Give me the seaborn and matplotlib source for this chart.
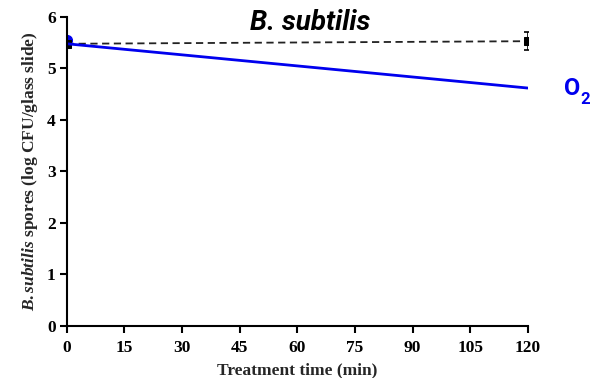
import matplotlib
matplotlib.use('Agg')
import matplotlib.pyplot as plt
import numpy as np
import pandas as pd
import seaborn as sb

# data
time_min = [0, 120]
control_mean = [5.48, 5.53]
control_err = [0.03, 0.17]
o2_mean = [5.48, 4.62]
o2_first = 5.56
x_ticks = [0, 15, 30, 45, 60, 75, 90, 105, 120]

sb.set_style("ticks")
plt.rcParams['font.family'] = ['Liberation Serif', 'DejaVu Serif']
plt.rcParams['mathtext.fontset'] = 'custom'
plt.rcParams['mathtext.it'] = 'Liberation Serif:italic:bold'
plt.rcParams['mathtext.rm'] = 'Liberation Serif:bold'
plt.rcParams['text.color'] = 'black'

df = pd.DataFrame({"time": time_min, "control": control_mean, "o2": o2_mean})

fig = plt.figure(figsize=(6.08, 3.78), dpi=100)
ax = fig.add_axes([0.110, 0.138, 0.758, 0.817])

sb.lineplot(data=df, x="time", y="control", ax=ax, color="#222222",
            linestyle=(0, (4, 2.5)), linewidth=1.3, marker="s", markersize=6,
            markeredgecolor="black", markerfacecolor="black")
ax.errorbar(time_min, control_mean, yerr=control_err, fmt="none",
            ecolor="black", elinewidth=1.2, capsize=3, capthick=1.2)
sb.lineplot(data=df, x="time", y="o2", ax=ax, color="#0000ee", linewidth=2)
ax.plot([0], [o2_first], "o", color="#0000ee", markersize=7, zorder=1)

ax.set_xlim(0, 120)
ax.set_ylim(0, 6)
ax.set_xticks(x_ticks)
ax.set_yticks(range(7))
sb.despine(ax=ax)
for s in ["left", "bottom"]:
    ax.spines[s].set_linewidth(1.5)
    ax.spines[s].set_color("black")
ax.tick_params(axis="both", direction="out", length=5, width=1.5,
               labelsize=12.5, colors="black")
ax.tick_params(axis="x", pad=5)
ax.tick_params(axis="y", pad=3)
for lab in ax.get_xticklabels() + ax.get_yticklabels():
    lab.set_fontweight("bold")

ax.set_xlabel("Treatment time (min)", fontsize=12.5, fontweight="bold", labelpad=5)
ax.set_ylabel(r"$\it{B.subtilis}$ spores (log CFU/glass slide)", fontsize=12.5,
              fontweight="bold", labelpad=5)

fig.text(0.51, 0.94, "B. subtilis", fontsize=20, fontweight="bold", style="italic",
         family="Roboto", ha="center", va="center", color="black")
# O2 label, subscript drawn as a second smaller text
fig.text(0.955, 0.765, "O", fontsize=17, fontweight="bold", color="#0000ee",
         family="Roboto", ha="right", va="center")
fig.text(0.954, 0.737, "2", fontsize=12, fontweight="bold", color="#0000ee",
         family="Roboto", ha="left", va="center")

fig.savefig("out.png", dpi=100)
